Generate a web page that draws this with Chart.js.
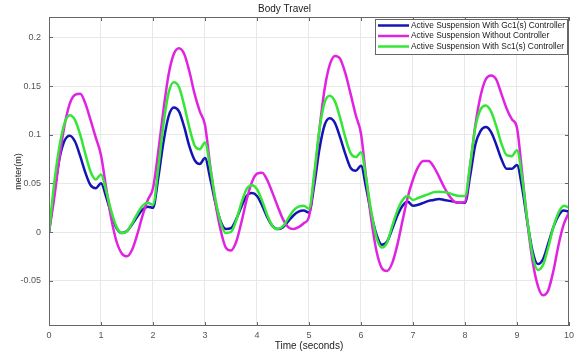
<!DOCTYPE html>
<html>
<head>
<meta charset="utf-8">
<script src="https://cdn.jsdelivr.net/npm/chart.js@4/dist/chart.umd.min.js"></script>
<style>
  html, body { margin: 0; padding: 0; background: #fff; }
  canvas { display: block; }
</style>
</head>
<body>
<canvas id="chart" width="578" height="356"></canvas>
<script>
// time axis (seconds)
const timeSec = [0,0.1,0.2,0.3,0.4,0.5,0.6,0.7,0.8,0.9,1,1.1,1.2,1.3,1.4,1.5,1.6,1.7,1.8,1.9,2,2.1,2.2,2.3,2.4,2.5,2.6,2.7,2.8,2.9,3,3.1,3.2,3.3,3.4,3.5,3.6,3.7,3.8,3.9,4,4.1,4.2,4.3,4.4,4.5,4.6,4.7,4.8,4.9,5,5.1,5.2,5.3,5.4,5.5,5.6,5.7,5.8,5.9,6,6.1,6.2,6.3,6.4,6.5,6.6,6.7,6.8,6.9,7,7.1,7.2,7.3,7.4,7.5,7.6,7.7,7.8,7.9,8,8.1,8.2,8.3,8.4,8.5,8.6,8.7,8.8,8.9,9,9.1,9.2,9.3,9.4,9.5,9.6,9.7,9.8,9.9,10];

// body travel (m) - with Gc1(s) controller
const gc1Travel = [0,0.04,0.075,0.094,0.099,0.093,0.078,0.061,0.048,0.045,0.05,0.036,0.018,0.004,-0.001,0.001,0.008,0.016,0.023,0.026,0.025,0.055,0.092,0.119,0.128,0.124,0.108,0.088,0.074,0.07,0.076,0.055,0.03,0.011,0.003,0.004,0.013,0.026,0.037,0.04,0.037,0.027,0.015,0.006,0.003,0.005,0.011,0.017,0.021,0.022,0.02,0.048,0.085,0.11,0.117,0.112,0.097,0.08,0.066,0.063,0.068,0.045,0.018,-0.003,-0.013,-0.01,0.003,0.017,0.027,0.031,0.027,0.028,0.03,0.032,0.033,0.034,0.033,0.032,0.031,0.03,0.03,0.058,0.09,0.104,0.108,0.103,0.09,0.075,0.065,0.065,0.069,0.045,0.01,-0.02,-0.033,-0.028,-0.012,0.005,0.017,0.022,0.021];

// body travel (m) - without controller
const noCtrlTravel = [0,0.035,0.076,0.11,0.132,0.141,0.142,0.132,0.115,0.097,0.079,0.045,0.013,-0.01,-0.022,-0.025,-0.018,-0.002,0.017,0.033,0.045,0.082,0.125,0.162,0.183,0.189,0.183,0.165,0.142,0.124,0.11,0.068,0.03,0.002,-0.016,-0.019,-0.01,0.01,0.033,0.051,0.06,0.061,0.053,0.04,0.026,0.013,0.005,0.003,0.005,0.009,0.016,0.055,0.105,0.147,0.172,0.181,0.178,0.163,0.142,0.12,0.101,0.055,0.012,-0.02,-0.037,-0.04,-0.032,-0.013,0.012,0.036,0.054,0.067,0.073,0.073,0.067,0.057,0.046,0.037,0.031,0.03,0.031,0.068,0.11,0.14,0.157,0.161,0.157,0.142,0.127,0.116,0.107,0.06,0.01,-0.03,-0.055,-0.065,-0.06,-0.04,-0.013,0.008,0.02];

// body travel (m) - with Sc1(s) controller
const sc1Travel = [0,0.05,0.088,0.112,0.12,0.115,0.1,0.08,0.062,0.054,0.059,0.042,0.021,0.005,-0.001,0.001,0.009,0.019,0.027,0.03,0.028,0.065,0.11,0.143,0.154,0.149,0.13,0.107,0.089,0.085,0.092,0.066,0.034,0.01,-0.001,0,0.012,0.03,0.044,0.048,0.044,0.032,0.017,0.006,0.003,0.006,0.014,0.022,0.026,0.027,0.024,0.06,0.105,0.133,0.14,0.134,0.117,0.097,0.081,0.077,0.082,0.055,0.02,-0.006,-0.016,-0.011,0.006,0.022,0.033,0.037,0.033,0.035,0.037,0.039,0.041,0.0415,0.041,0.04,0.038,0.037,0.037,0.07,0.108,0.126,0.13,0.124,0.109,0.091,0.079,0.078,0.084,0.055,0.012,-0.024,-0.039,-0.034,-0.016,0.005,0.02,0.027,0.025];

const seriesLabels = [
  'Active Suspension With Gc1(s) Controller',
  'Active Suspension Without Controller',
  'Active Suspension With Sc1(s) Controller'
];
const xTicks = [0,1,2,3,4,5,6,7,8,9,10];
const yTicks = [-0.05,0,0.05,0.1,0.15,0.2];

const colors = ['#1414b4', '#e023e0', '#36e636'];

function toPoints(vals) {
  return vals.map((v, i) => ({ x: timeSec[i], y: v }));
}

// frame, inward ticks and the legend box drawn like the matlab figure
const matlabFrame = {
  id: 'matlabFrame',
  afterDraw(chart) {
    const { ctx, chartArea: a, scales } = chart;
    const x = scales.x, y = scales.y;
    ctx.save();
    ctx.strokeStyle = '#666';
    ctx.lineWidth = 1;
    ctx.strokeRect(a.left + 0.5, a.top + 0.5, a.width - 1, a.height - 1);
    ctx.beginPath();
    xTicks.forEach(t => {
      const px = Math.round(x.getPixelForValue(t)) + 0.5;
      ctx.moveTo(px, a.bottom); ctx.lineTo(px, a.bottom - 4);
      ctx.moveTo(px, a.top); ctx.lineTo(px, a.top + 4);
    });
    yTicks.forEach(t => {
      const py = Math.round(y.getPixelForValue(t)) + 0.5;
      ctx.moveTo(a.left, py); ctx.lineTo(a.left + 4, py);
      ctx.moveTo(a.right, py); ctx.lineTo(a.right - 4, py);
    });
    ctx.stroke();

    // legend
    const bx = 375, by = 19, bw = 192, bh = 35;
    ctx.fillStyle = '#fff';
    ctx.fillRect(bx, by, bw, bh);
    ctx.strokeStyle = '#666';
    ctx.strokeRect(bx + 0.5, by + 0.5, bw, bh);
    ctx.font = '8.4px "Liberation Sans", Arial, sans-serif';
    ctx.textBaseline = 'middle';
    ctx.fillStyle = '#1a1a1a';
    const rows = [25.5, 36, 46.5];
    seriesLabels.forEach((lab, i) => {
      ctx.strokeStyle = colors[i];
      ctx.lineWidth = 2.5;
      ctx.beginPath();
      ctx.moveTo(378, rows[i]); ctx.lineTo(409, rows[i]);
      ctx.stroke();
      ctx.fillText(lab, 411, rows[i]);
    });
    ctx.restore();
  }
};

const tickFont = { family: '"Liberation Sans", Arial, sans-serif', size: 9 };

new Chart(document.getElementById('chart'), {
  type: 'line',
  data: {
    datasets: [
      { label: seriesLabels[0], data: toPoints(gc1Travel), borderColor: colors[0], order: 3 },
      { label: seriesLabels[1], data: toPoints(noCtrlTravel), borderColor: colors[1], order: 2 },
      { label: seriesLabels[2], data: toPoints(sc1Travel), borderColor: colors[2], order: 1 }
    ]
  },
  options: {
    responsive: false,
    animation: false,
    events: [],
    layout: { padding: { left: 0, right: 9, top: 0, bottom: 0 } },
    elements: {
      point: { radius: 0 },
      line: { borderWidth: 2.5, cubicInterpolationMode: 'monotone', fill: false }
    },
    plugins: {
      legend: { display: false },
      tooltip: { enabled: false },
      title: {
        display: true,
        text: 'Body Travel',
        color: '#222',
        font: { family: '"Liberation Sans", Arial, sans-serif', size: 10, weight: 'normal', lineHeight: 1.2 },
        padding: { top: 3, bottom: 2 }
      }
    },
    scales: {
      x: {
        type: 'linear',
        min: 0,
        max: 10,
        afterBuildTicks: s => { s.ticks = xTicks.map(v => ({ value: v })); },
        afterFit: s => { s.height = 30; },
        grid: { color: '#e8e8e8', drawTicks: false },
        border: { display: false },
        ticks: { color: '#555', font: tickFont, padding: 4, maxRotation: 0 },
        title: {
          display: true,
          text: 'Time (seconds)',
          color: '#222',
          font: { family: '"Liberation Sans", Arial, sans-serif', size: 10, lineHeight: 1.2 },
          padding: { top: 0, bottom: 4 }
        }
      },
      y: {
        type: 'linear',
        min: -0.0966,
        max: 0.221,
        afterBuildTicks: s => { s.ticks = yTicks.map(v => ({ value: v })); },
        afterFit: s => { s.width = 49; },
        grid: { color: '#e8e8e8', drawTicks: false },
        border: { display: false },
        ticks: { color: '#555', font: tickFont, padding: 8, callback: v => String(v) },
        title: {
          display: true,
          text: 'meter(m)',
          color: '#222',
          font: { family: '"Liberation Sans", Arial, sans-serif', size: 9, lineHeight: 1.2 },
          padding: { top: 13, bottom: 0 }
        }
      }
    }
  },
  plugins: [matlabFrame]
});
</script>
</body>
</html>
